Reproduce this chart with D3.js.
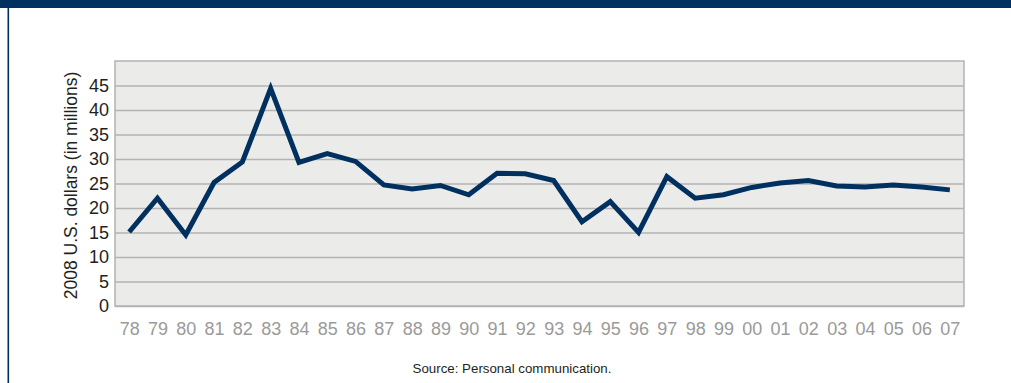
<!DOCTYPE html>
<html>
<head>
<meta charset="utf-8">
<script src="https://cdn.jsdelivr.net/npm/d3@7"></script>
<style>
  html, body { margin: 0; padding: 0; background: #ffffff; }
  svg { display: block; }
  text { font-family: "Liberation Sans Narrow", "Arial Narrow", "Liberation Sans", sans-serif; }
</style>
</head>
<body>
<svg id="chart" width="1011" height="383"></svg>
<script>
// Annual values, 2008 U.S. dollars (in millions)
const years = ["78","79","80","81","82","83","84","85","86","87","88","89","90","91","92","93","94","95","96","97","98","99","00","01","02","03","04","05","06","07"];
const values = [15.1, 22.0, 14.5, 25.2, 29.4, 44.4, 29.3, 31.1, 29.5, 24.7, 23.9, 24.6, 22.7, 27.1, 27.0, 25.6, 17.2, 21.3, 15.0, 26.4, 22.0, 22.7, 24.2, 25.1, 25.6, 24.5, 24.3, 24.7, 24.3, 23.7];
const yTicks = [0, 5, 10, 15, 20, 25, 30, 35, 40, 45];
const yDomain = [0, 50];
const yTitle = "2008 U.S. dollars (in millions)";
const sourceNote = "Source: Personal communication.";

const W = 1011, H = 383;
const plot = { left: 115, right: 964, top: 61, bottom: 306 };
const navy = "#00305f";

const svg = d3.select("#chart");

// Frame: dark band across the top and a thin rule down the left side
svg.append("rect").attr("x", 0).attr("y", 0).attr("width", W).attr("height", 8).attr("fill", navy);
svg.append("rect").attr("x", 7.5).attr("y", 8).attr("width", 1.6).attr("height", H - 8).attr("fill", navy);

const x = d3.scalePoint().domain(years).range([plot.left, plot.right]).padding(0.5);
const y = d3.scaleLinear().domain(yDomain).range([plot.bottom, plot.top]);

// Plot background
svg.append("rect")
  .attr("x", plot.left).attr("y", plot.top)
  .attr("width", plot.right - plot.left).attr("height", plot.bottom - plot.top)
  .attr("fill", "#ebecea").attr("stroke", "#b3b3b3").attr("stroke-width", 1.5);

// Horizontal gridlines and y labels
const yAxis = d3.axisLeft(y).tickValues(yTicks).tickSize(-(plot.right - plot.left)).tickPadding(6);
const gy = svg.append("g").attr("transform", `translate(${plot.left},0)`).call(yAxis);
gy.select(".domain").remove();
gy.selectAll(".tick line").attr("stroke", "#b3b3b3").attr("stroke-width", 1.5);
gy.selectAll(".tick text")
  .attr("fill", "#231f20").attr("font-size", 18)
  .style("font-family", '"Liberation Sans Narrow", "Liberation Sans", sans-serif');

// Year labels along the bottom
const xAxis = d3.axisBottom(x).tickSize(0).tickPadding(16);
const gx = svg.append("g").attr("transform", `translate(0,${plot.bottom})`).call(xAxis);
gx.select(".domain").remove();
gx.selectAll(".tick text")
  .attr("fill", "#9a9a9a").attr("font-size", 18)
  .style("font-family", '"Liberation Sans Narrow", "Liberation Sans", sans-serif');

// Data line
const line = d3.line().x((d, i) => x(years[i])).y(d => y(d));
svg.append("path")
  .datum(values)
  .attr("d", line)
  .attr("fill", "none")
  .attr("stroke", navy)
  .attr("stroke-width", 5)
  .attr("stroke-linejoin", "miter")
  .attr("stroke-miterlimit", 4);

// Y axis title
svg.append("text")
  .attr("transform", `translate(77,${(plot.top + plot.bottom) / 2 + 2}) rotate(-90)`)
  .attr("text-anchor", "middle")
  .attr("fill", "#231f20")
  .attr("font-size", 17.5)
  .text(yTitle);

// Source note
svg.append("text")
  .attr("x", 512).attr("y", 373)
  .attr("text-anchor", "middle")
  .attr("fill", "#231f20")
  .attr("font-size", 13.3)
  .text(sourceNote);
</script>
</body>
</html>
